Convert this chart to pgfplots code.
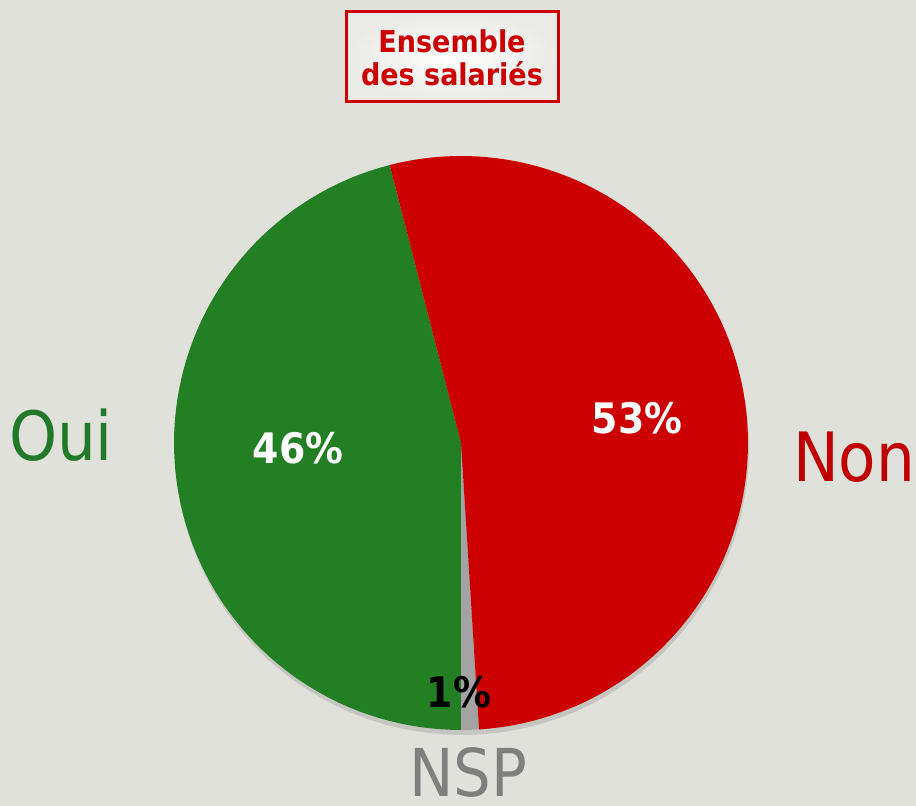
\documentclass[border=0pt]{standalone}
\usepackage{pgfplots}
\usepackage{pgfplotstable}
\pgfplotsset{compat=1.18}
\usepackage{fontspec}
\setmainfont{DejaVu Sans}
\newfontfamily\cond{DejaVu Sans Condensed}
\definecolor{bg}{HTML}{E1E1DC}
\definecolor{pgreen}{HTML}{237F24}
\definecolor{pred}{HTML}{CC0000}
\definecolor{pgray}{HTML}{A3A3A3}
\definecolor{lgreen}{HTML}{23782A}
\definecolor{lred}{HTML}{C00000}
\definecolor{lgray}{HTML}{7F7F7F}

\pgfplotstableread{
label value
Oui 46
NSP 1
Non 53
}\piedata

\begin{document}
\begin{tikzpicture}
\pgfplotstablegetelem{0}{value}\of\piedata \let\vOui\pgfplotsretval
\pgfplotstablegetelem{1}{value}\of\piedata \let\vNSP\pgfplotsretval
\pgfplotstablegetelem{2}{value}\of\piedata \let\vNon\pgfplotsretval
\pgfmathsetmacro\aA{270-3.6*\vOui}
\pgfmathsetmacro\aB{270}
\pgfmathsetmacro\aC{270+3.6*\vNSP}
\pgfmathsetmacro\aD{\aC+3.6*\vNon}
\def\cx{461}\def\cy{363}\def\R{287}
\begin{axis}[
  scale only axis, width=458pt, height=403pt,
  xmin=0, xmax=916, ymin=0, ymax=806,
  hide axis, clip=false,
]
\fill[bg] (axis cs:0,0) rectangle (axis cs:916,806);
% title box
\draw[draw=pred, line width=1.5pt, inner color=white, outer color=bg!70!white]
  (axis cs:346,704) rectangle (axis cs:558,794);
\node[text=pred, font=\cond\bfseries\fontsize{15}{16.5}\selectfont, align=center]
  at (axis cs:452,748) {Ensemble\\des salariés};
% subtle shadow
\addplot[fill=black, fill opacity=0.12, draw=none, domain=0:360, samples=120, variable=\t]
  ({\cx+1+\R*cos(\t)},{\cy-5+\R*sin(\t)}) -- cycle;
% slices
\addplot[fill=pgreen, draw=none, domain=\aA:\aB, samples=80, variable=\t]
  ({\cx+\R*cos(\t)},{\cy+\R*sin(\t)}) -- (axis cs:\cx,\cy) -- cycle;
\addplot[fill=pgray, draw=none, domain=\aB:\aC, samples=5, variable=\t]
  ({\cx+\R*cos(\t)},{\cy+\R*sin(\t)}) -- (axis cs:\cx,\cy) -- cycle;
\addplot[fill=pred, draw=none, domain=\aC:\aD, samples=90, variable=\t]
  ({\cx+\R*cos(\t)},{\cy+\R*sin(\t)}) -- (axis cs:\cx,\cy) -- cycle;
% percent labels
\node[text=white, font=\cond\bfseries\fontsize{21}{24}\selectfont] at (axis cs:298,358) {46\%};
\node[text=white, font=\cond\bfseries\fontsize{21}{24}\selectfont] at (axis cs:637,388) {53\%};
\node[text=black, font=\cond\bfseries\fontsize{21}{24}\selectfont] at (axis cs:459,114) {1\%};
% category labels
\node[text=lgreen, font=\cond\fontsize{34}{38}\selectfont] at (axis cs:61,371) {Oui};
\node[text=lred, font=\cond\fontsize{34}{38}\selectfont] at (axis cs:854,349) {Non};
\node[text=lgray, font=\cond\fontsize{33}{38}\selectfont, anchor=base, inner sep=0pt] at (axis cs:468,9) {NSP};
\end{axis}
\pgfresetboundingbox
\useasboundingbox (0,0) rectangle (458pt,403pt);
\end{tikzpicture}
\end{document}
